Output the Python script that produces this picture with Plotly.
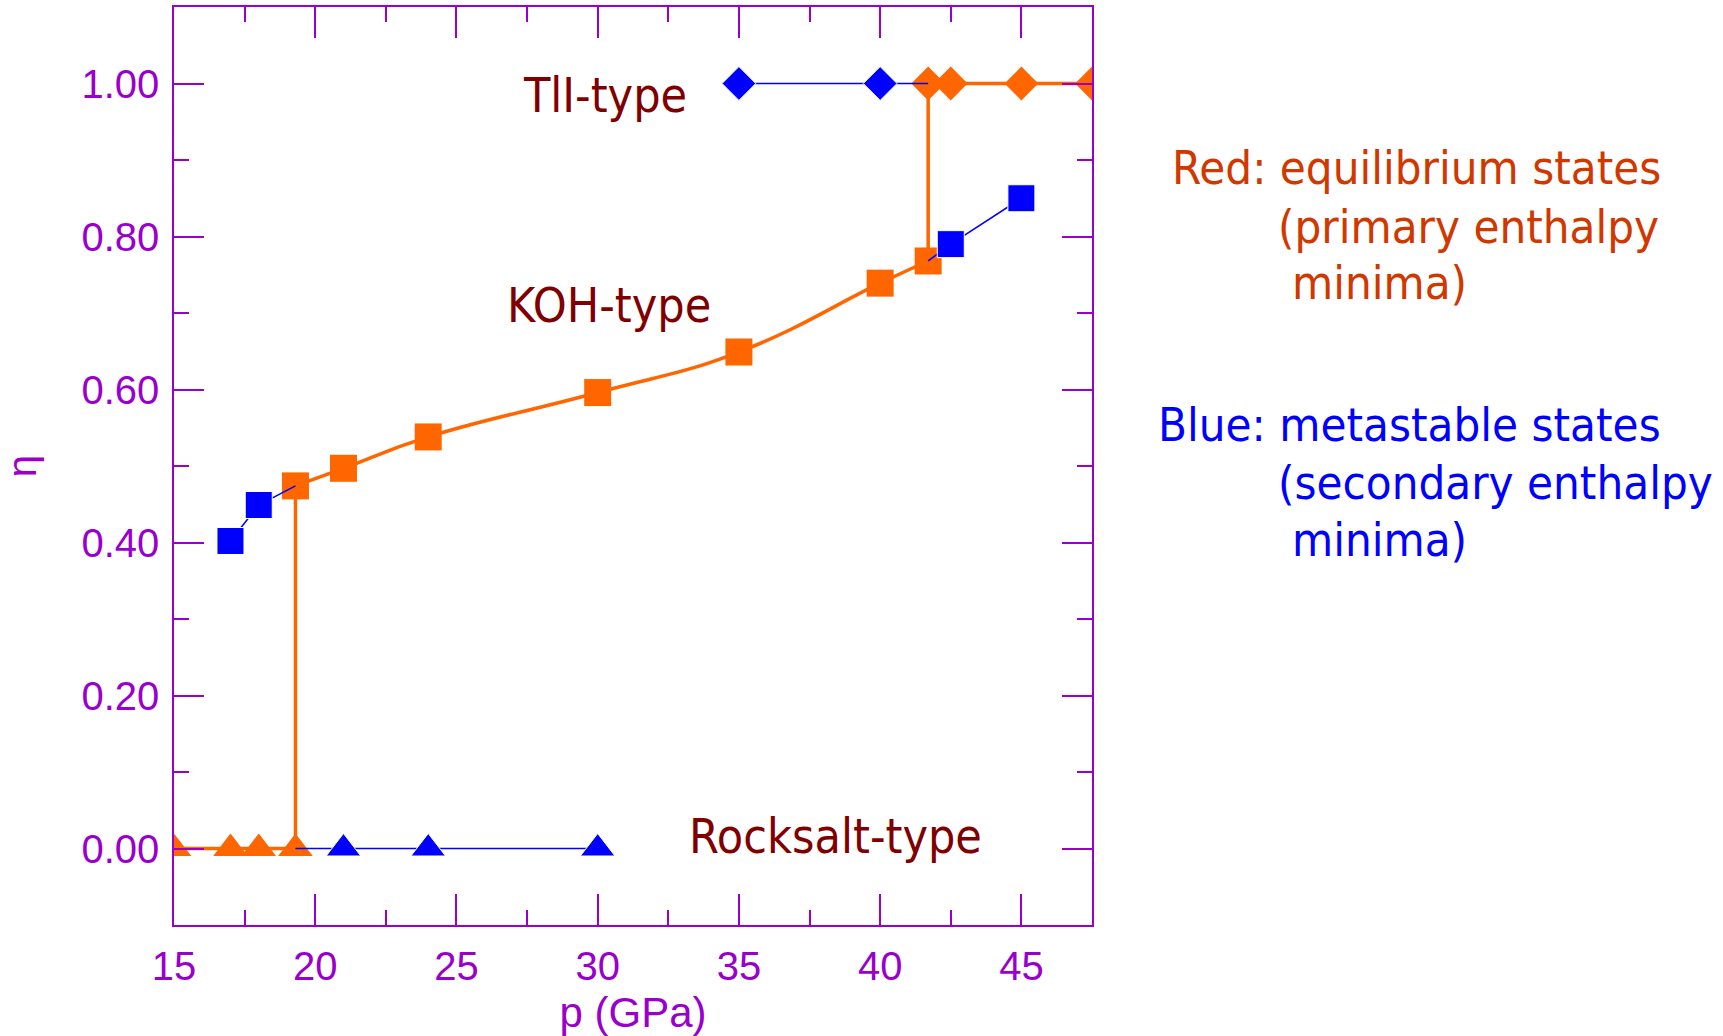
import plotly.graph_objects as go

# ---------------- data ----------------
# Rocksalt-type (eta = 0)
rs_eq_p = [15, 17, 18, 19.3]
rs_eq_eta = [0.0, 0.0, 0.0, 0.0]
rs_meta_p = [19.3, 21, 24, 30]
rs_meta_eta = [0.0, 0.0, 0.0, 0.0]

# KOH-type
koh_eq_p = [19.3, 21, 24, 30, 35, 40, 41.7]
koh_eq_eta = [0.474, 0.497, 0.538, 0.596, 0.649, 0.739, 0.768]
koh_meta_lo_p = [17, 18, 19.3]
koh_meta_lo_eta = [0.402, 0.449, 0.474]
koh_meta_hi_p = [41.7, 42.5, 45]
koh_meta_hi_eta = [0.768, 0.790, 0.850]

# TlI-type (eta = 1)
tli_eq_p = [41.7, 42.5, 45, 47.5]
tli_eq_eta = [1.0, 1.0, 1.0, 1.0]
tli_meta_p = [35, 40, 41.7]
tli_meta_eta = [1.0, 1.0, 1.0]

phase_labels = ["TlI-type", "KOH-type", "Rocksalt-type"]
x_ticks = [15, 20, 25, 30, 35, 40, 45]
y_ticks = [0.0, 0.2, 0.4, 0.6, 0.8, 1.0]

# ---------------- styles ----------------
ORANGE = "#ff6600"
BLUE = "#0000ff"
PURPLE = "#9900cc"
DARKRED = "#800000"
REDTXT = "#d03800"
TICKFONT = "Liberation Sans, Arial, sans-serif"
TXTFONT = "DejaVu Sans Condensed, DejaVu Sans, sans-serif"

W, H = 1723, 1036
ML, MT = 174, 7
PW, PH = 918, 918
MR, MB = W - ML - PW, H - MT - PH


def px_x(px):
    return (px - ML) / PW


def px_y(py):
    return (H - MB - py) / PH


fig = go.Figure()

SQ, DIA, TRI = 27, 26, 30
OW, BW = 3.5, 1.6

# ---- equilibrium (orange) ----
fig.add_trace(go.Scatter(x=rs_eq_p, y=rs_eq_eta, mode="lines+markers",
                         line=dict(color=ORANGE, width=OW),
                         marker=dict(symbol="triangle-up", size=TRI, color=ORANGE, opacity=1)))
fig.add_trace(go.Scatter(x=[rs_eq_p[-1], koh_eq_p[0]], y=[rs_eq_eta[-1], koh_eq_eta[0]],
                         mode="lines", line=dict(color=ORANGE, width=OW)))
fig.add_trace(go.Scatter(x=koh_eq_p, y=koh_eq_eta, mode="lines+markers",
                         line=dict(color=ORANGE, width=OW, shape="spline", smoothing=1.3),
                         marker=dict(symbol="square", size=SQ, color=ORANGE, opacity=1)))
fig.add_trace(go.Scatter(x=[koh_eq_p[-1], tli_eq_p[0]], y=[koh_eq_eta[-1], tli_eq_eta[0]],
                         mode="lines", line=dict(color=ORANGE, width=OW)))
fig.add_trace(go.Scatter(x=tli_eq_p, y=tli_eq_eta, mode="lines+markers",
                         line=dict(color=ORANGE, width=OW),
                         marker=dict(symbol="diamond", size=DIA, color=ORANGE, opacity=1)))

# ---- metastable (blue) ----
fig.add_trace(go.Scatter(x=rs_meta_p, y=rs_meta_eta, mode="lines+markers",
                         line=dict(color=BLUE, width=BW),
                         marker=dict(symbol="triangle-up", color=BLUE, opacity=1,
                                     size=[0] + [TRI] * (len(rs_meta_p) - 1))))
fig.add_trace(go.Scatter(x=koh_meta_lo_p, y=koh_meta_lo_eta, mode="lines+markers",
                         line=dict(color=BLUE, width=BW),
                         marker=dict(symbol="square", color=BLUE, opacity=1,
                                     size=[SQ] * (len(koh_meta_lo_p) - 1) + [0])))
fig.add_trace(go.Scatter(x=koh_meta_hi_p, y=koh_meta_hi_eta, mode="lines+markers",
                         line=dict(color=BLUE, width=BW),
                         marker=dict(symbol="square", color=BLUE, opacity=1,
                                     size=[0] + [SQ] * (len(koh_meta_hi_p) - 1))))
fig.add_trace(go.Scatter(x=tli_meta_p, y=tli_meta_eta, mode="lines+markers",
                         line=dict(color=BLUE, width=BW),
                         marker=dict(symbol="diamond", color=BLUE, opacity=1,
                                     size=[DIA] * (len(tli_meta_p) - 1) + [0])))

# ---- phase labels inside the plot ----
label_pos = [(27.28, 0.985), (26.73, 0.711), (33.16, 0.016)]
for txt, (lx, ly) in zip(phase_labels, label_pos):
    fig.add_annotation(x=lx, y=ly, xref="x", yref="y", text=txt, showarrow=False,
                       xanchor="left", yanchor="middle",
                       font=dict(family=TXTFONT, size=48, color=DARKRED))

# ---- explanatory text to the right ----
side_lines = [
    ("Red: equilibrium states", 1170, 168, REDTXT),
    ("(primary enthalpy", 1276, 226, REDTXT),
    ("minima)", 1290, 282, REDTXT),
    ("Blue: metastable states", 1156, 424, BLUE),
    ("(secondary enthalpy", 1276, 482, BLUE),
    ("minima)", 1290, 539, BLUE),
]
for txt, lx, ly, col in side_lines:
    fig.add_annotation(x=px_x(lx), y=px_y(ly), xref="paper", yref="paper", text=txt,
                       showarrow=False, xanchor="left", yanchor="middle",
                       font=dict(family=TXTFONT, size=47, color=col))

axis_common = dict(
    showline=True, linecolor=PURPLE, linewidth=1.5, mirror="ticks",
    ticks="inside", tickcolor=PURPLE, tickwidth=1.5,
    showgrid=False, zeroline=False, automargin=False,
    tickfont=dict(family=TICKFONT, size=40, color=PURPLE),
)

fig.update_xaxes(range=[15, 47.5], tickvals=x_ticks, ticktext=[str(v) for v in x_ticks],
                 ticklen=31, ticklabelstandoff=5,
                 minor=dict(dtick=2.5, tick0=15, ticks="inside", ticklen=15,
                            tickcolor=PURPLE, tickwidth=1.5, showgrid=False),
                 title=dict(text="p (GPa)", standoff=12,
                            font=dict(family=TICKFONT, size=42, color=PURPLE)),
                 **axis_common)
fig.update_yaxes(range=[-0.1, 1.1], tickvals=y_ticks, ticktext=[f"{v:.2f}" for v in y_ticks],
                 ticklen=30, ticklabelstandoff=5,
                 minor=dict(dtick=0.1, tick0=0, ticks="inside", ticklen=15,
                            tickcolor=PURPLE, tickwidth=1.5, showgrid=False),
                 title=dict(text="η", standoff=39,
                            font=dict(family=TICKFONT, size=40, color=PURPLE)),
                 **axis_common)

fig.update_layout(
    width=W, height=H, showlegend=False,
    margin=dict(l=ML, r=MR, t=MT, b=MB, autoexpand=False),
    paper_bgcolor="white", plot_bgcolor="white",
)

# remove the default page margin so the figure fills the window exactly
fig.write_html(
    "out.html",
    config={"displayModeBar": False},
    post_script="document.body.style.margin='0';"
                "document.documentElement.style.overflow='hidden';"
                "document.body.style.overflow='hidden';",
)
